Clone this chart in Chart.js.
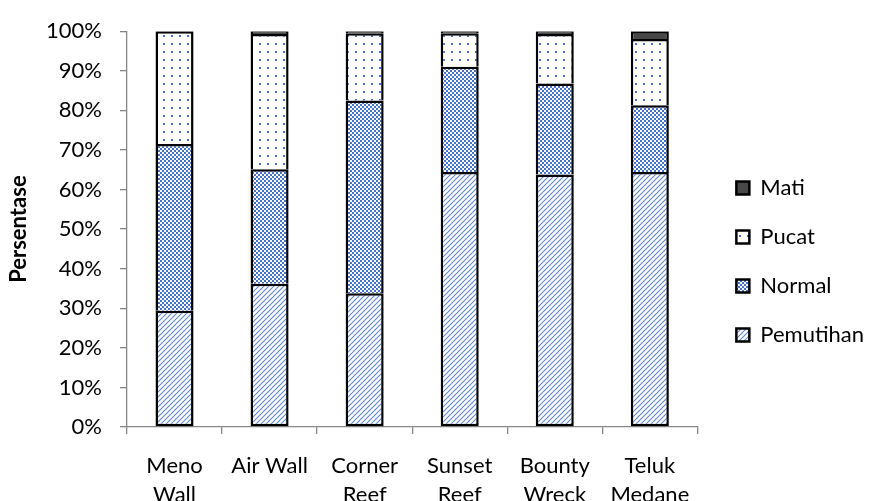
<!DOCTYPE html>
<html>
<head>
<meta charset="utf-8">
<script src="https://cdn.jsdelivr.net/npm/chart.js@4.4.1/dist/chart.umd.min.js"></script>
<style>
  html, body { margin: 0; padding: 0; background: #fff; }
</style>
</head>
<body>
<canvas id="myChart" width="877" height="501"></canvas>
<script>
// coral condition per dive site, percent of colonies
const sites = [['Meno', 'Wall'], 'Air Wall', ['Corner', 'Reef'], ['Sunset', 'Reef'], ['Bounty', 'Wreck'], ['Teluk', 'Medane']];
const pemutihan = [29.4, 36.2, 33.8, 64.4, 63.8, 64.4];
const normal = [42.1, 28.9, 48.7, 26.6, 23.0, 16.9];
const pucat = [28.5, 34.2, 17.0, 8.5, 12.5, 16.7];
const mati = [0, 0.7, 0.5, 0.5, 0.7, 2.0];

const BLUE = '#4472c4';
const FONT = 'Lato, "Open Sans", sans-serif';

// small tiles used as fills, like the office pattern fills
const makePattern = (size, paint) => {
  let c = document.createElement('canvas');
  c.width = size;
  c.height = size;
  let g = c.getContext('2d');
  g.fillStyle = '#fff';
  g.fillRect(0, 0, size, size);
  paint(g, size);
  return document.getElementById('myChart').getContext('2d').createPattern(c, 'repeat');
}

const hatch = makePattern(5, (g, s) => {
  g.strokeStyle = '#5f86cc';
  g.lineWidth = 1.1;
  g.beginPath();
  g.moveTo(-1, s + 1); g.lineTo(s + 1, -1);
  g.moveTo(-1, 1); g.lineTo(1, -1);
  g.moveTo(s - 1, s + 1); g.lineTo(s + 1, s - 1);
  g.stroke();
});

const checker = makePattern(4, (g) => {
  g.fillStyle = BLUE;
  g.fillRect(0, 0, 2, 2);
  g.fillRect(2, 2, 2, 2);
});

const dots = makePattern(8, (g) => {
  g.fillStyle = BLUE;
  g.fillRect(3, 3, 2, 2);
});

// the legend sits a little further from the plot than its own padding allows
const shiftLegend = {
  id: 'shiftLegend',
  afterInit(chart) {
    const lg = chart.legend;
    const fit = lg.fit;
    lg.fit = function () {
      fit.call(this);
      this.width += 15;
    };
    const draw = lg.draw;
    lg.draw = function () {
      this.left += 12;
      draw.call(this);
      this.left -= 12;
    };
  }
};

const ds = (label, data, fill, extra) => Object.assign({
  label: label,
  data: data,
  backgroundColor: fill,
  borderColor: '#000',
  borderWidth: 2.5,
  barPercentage: 0.4,
  categoryPercentage: 1,
}, extra || {});

Chart.defaults.font.family = FONT;
Chart.defaults.color = '#000';

new Chart(document.getElementById('myChart'), {
  type: 'bar',
  data: {
    labels: sites,
    datasets: [
      ds('Pemutihan', pemutihan, hatch, { borderSkipped: false }),
      ds('Normal', normal, checker),
      ds('Pucat', pucat, dots),
      ds('Mati', mati, '#474747'),
    ]
  },
  options: {
    responsive: false,
    animation: false,
    layout: { padding: { top: 22, right: 0, left: 0, bottom: 0 } },
    plugins: {
      tooltip: { enabled: false },
      legend: {
        position: 'right',
        reverse: true,
        labels: {
          boxWidth: 13,
          boxHeight: 13,
          padding: 27,
          font: { size: 22 },
          color: '#000',
        }
      }
    },
    scales: {
      x: {
        stacked: true,
        border: { color: '#868686', width: 1.3 },
        grid: { drawOnChartArea: false, tickLength: 7, color: '#868686', lineWidth: 1.3 },
        ticks: { font: { size: 22, lineHeight: 1.3 }, padding: 18, maxRotation: 0, autoSkip: false },
        afterFit: (scale) => { scale.height = 74; }
      },
      y: {
        stacked: true,
        min: 0,
        max: 100,
        border: { color: '#868686', width: 1.3 },
        grid: { drawOnChartArea: false, tickLength: 7, color: '#868686', lineWidth: 1.3 },
        ticks: {
          stepSize: 10,
          padding: 18,
          font: { size: 22 },
          callback: (v) => v + '%'
        },
        title: {
          display: true,
          text: 'Persentase',
          font: { size: 22, weight: 'bold' },
          padding: { top: 6, bottom: 0 }
        },
        afterFit: (scale) => { scale.width = 127; }
      }
    }
  },
  plugins: [shiftLegend]
});
</script>
</body>
</html>
